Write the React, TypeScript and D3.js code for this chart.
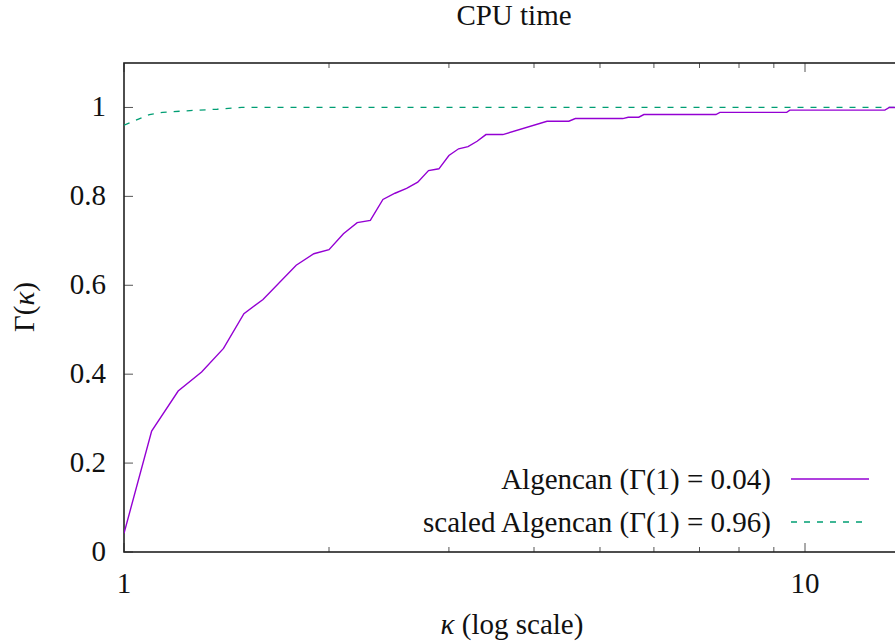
import React from "react";
import * as d3 from "d3";

const algencanK = [1, 1.098, 1.201, 1.3, 1.4, 1.5, 1.6, 1.79, 1.9, 2.0, 2.1, 2.2, 2.3, 2.4, 2.5, 2.6, 2.7, 2.8, 2.9, 3.0, 3.1, 3.2, 3.3, 3.4, 3.6, 4.18, 4.5, 4.6, 5.4, 5.5, 5.7, 5.8, 7.4, 7.5, 9.4, 9.5, 13.1, 13.3, 14];
const algencanG = [0.042, 0.272, 0.362, 0.405, 0.458, 0.536, 0.568, 0.645, 0.671, 0.68, 0.716, 0.741, 0.746, 0.793, 0.807, 0.818, 0.832, 0.858, 0.862, 0.892, 0.907, 0.912, 0.924, 0.939, 0.939, 0.969, 0.969, 0.975, 0.975, 0.978, 0.978, 0.984, 0.984, 0.989, 0.989, 0.994, 0.994, 1.0, 1.0];
const scaledK = [1, 1.09, 1.14, 1.25, 1.37, 1.49, 14];
const scaledG = [0.96, 0.984, 0.989, 0.993, 0.996, 1.0, 1.0];

const yTicks = [0, 0.2, 0.4, 0.6, 0.8, 1];
const yTickLabels = ["0", "0.2", "0.4", "0.6", "0.8", "1"];
const xMajor = [1, 10];
const xMajorLabels = ["1", "10"];
const xMinor = [2, 3, 4, 5, 6, 7, 8, 9];

const W = 895, H = 643;
const left = 124, bottom = 552, top = 63;
const decade = 681;
const xMax = 14;
const right = left + decade * Math.log10(xMax);

const PURPLE = "#9400D3";
const GREEN = "#009E73";

function setFont(el: SVGTextElement | null) {
  if (el) {
    el.style.setProperty("font-family", "Liberation Serif", "important");
    el.style.setProperty("font-size", "29px", "important");
  }
}

function T(props: { x?: number; y?: number; anchor?: string; transform?: string; children: React.ReactNode }) {
  return (
    <text ref={setFont} x={props.x} y={props.y} transform={props.transform} textAnchor={props.anchor || "start"}
      fontFamily="Liberation Serif" fontSize={29}
      style={{ fontFamily: "Liberation Serif", fontSize: 29 }} fill="#111">
      {props.children}
    </text>
  );
}

export default function App() {
  const x = d3.scaleLog().domain([1, xMax]).range([left, right]);
  const y = d3.scaleLinear().domain([0, 1.1]).range([bottom, top]);
  const line = d3.line<[number, number]>().x(d => x(d[0])).y(d => y(d[1]));
  const algData = algencanK.map((k, i) => [k, algencanG[i]] as [number, number]);
  const scData = scaledK.map((k, i) => [k, scaledG[i]] as [number, number]);

  return (
    <svg id="chartsvg" width={W} height={H} style={{ position: "absolute", left: 0, top: 0, background: "#fff" }}>
      <style>{`#chartsvg text, #chartsvg tspan { font-family: "Liberation Serif", serif !important; }`}</style>
      <defs>
        <clipPath id="plot">
          <rect x={left} y={top} width={right - left} height={bottom - top} />
        </clipPath>
      </defs>
      {yTicks.map((t, i) => (
        <g key={"y" + i}>
          <line x1={left} x2={left + 9} y1={y(t)} y2={y(t)} stroke="#555" strokeWidth={1} />
          <T x={106} y={y(t) + 9} anchor="end">{yTickLabels[i]}</T>
        </g>
      ))}
      {xMajor.map((t, i) => (
        <g key={"xm" + i}>
          <line x1={x(t)} x2={x(t)} y1={bottom} y2={bottom - 9} stroke="#555" strokeWidth={1} />
          <line x1={x(t)} x2={x(t)} y1={top} y2={top + 9} stroke="#555" strokeWidth={1} />
          <T x={x(t)} y={593} anchor="middle">{xMajorLabels[i]}</T>
        </g>
      ))}
      {xMinor.map((t, i) => (
        <g key={"xn" + i}>
          <line x1={x(t)} x2={x(t)} y1={bottom} y2={bottom - 5} stroke="#555" strokeWidth={1} />
          <line x1={x(t)} x2={x(t)} y1={top} y2={top + 5} stroke="#555" strokeWidth={1} />
        </g>
      ))}
      <rect x={left} y={top} width={right - left} height={bottom - top} fill="none" stroke="#222" strokeWidth={1.6} />
      <g clipPath="url(#plot)">
        <path d={line(scData) || ""} fill="none" stroke={GREEN} strokeWidth={1.3} strokeDasharray="6,7" />
        <path d={line(algData) || ""} fill="none" stroke={PURPLE} strokeWidth={1.4} />
      </g>
      <T x={771} y={489} anchor="end">Algencan (Γ(1) = 0.04)</T>
      <line x1={791} x2={869} y1={479} y2={479} stroke={PURPLE} strokeWidth={1.4} />
      <T x={771} y={532} anchor="end">scaled Algencan (Γ(1) = 0.96)</T>
      <line x1={791} x2={869} y1={522} y2={522} stroke={GREEN} strokeWidth={1.3} strokeDasharray="6,7" />
      <T x={514} y={25} anchor="middle">CPU time</T>
      <T x={512} y={634} anchor="middle"><tspan fontStyle="italic">κ</tspan> (log scale)</T>
      <T transform="translate(34,307) rotate(-90)" anchor="middle">Γ(<tspan fontStyle="italic">κ</tspan>)</T>
    </svg>
  );
}
